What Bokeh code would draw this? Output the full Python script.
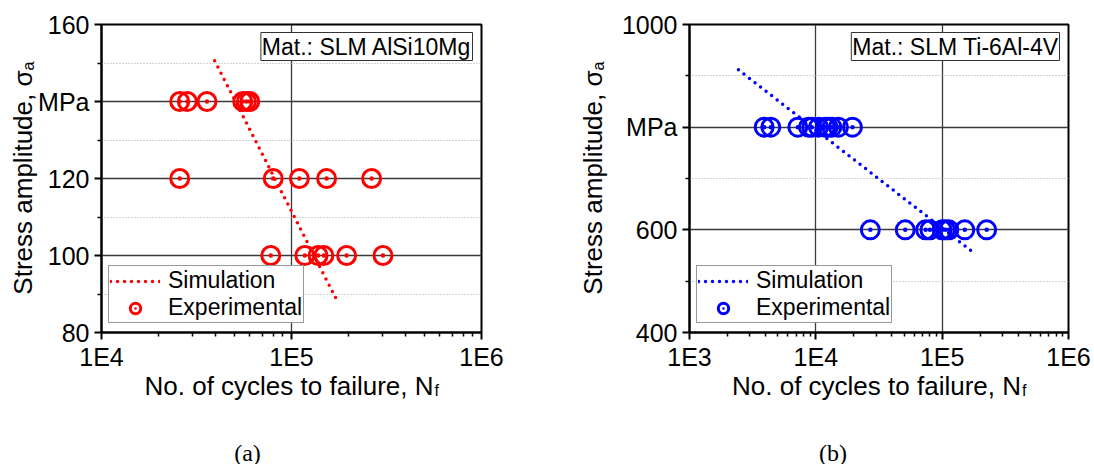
import math
from bokeh.plotting import figure
from bokeh.models import Range1d, FixedTicker, Label, Legend, LegendItem
from bokeh.layouts import row
from bokeh.embed import file_html
from bokeh.resources import INLINE

# ---------------- data: (a) SLM AlSi10Mg ----------------
al_exp_N = [25800, 28300, 35900, 55400, 57900, 60300,
            25800, 80100, 110000, 153000, 264000,
            77800, 117500, 138000, 148000, 195000, 303000]
al_exp_S = [140, 140, 140, 140, 140, 140,
            120, 120, 120, 120, 120,
            100, 100, 100, 100, 100, 100]
al_sim_N = [39400, 177000]
al_sim_S = [150.6, 87.5]
al_y_ticks = [80, 100, 120, 140, 160]
al_y_minor = [90, 110, 130, 150]
al_x_decades = [4, 5, 6]
al_title = "Mat.: SLM AlSi10Mg"

# ---------------- data: (b) SLM Ti-6Al-4V ----------------
ti_exp_N = [3900, 4400, 7200, 8750, 9300, 10500, 11900, 12500, 13400, 15100, 19500,
            27000, 51000, 74000, 80000, 100000, 106000, 113000, 151000, 225000]
ti_exp_S = [800] * 11 + [600] * 9
ti_sim_N = [2440, 169000]
ti_sim_S = [911.7, 559.7]
ti_y_ticks = [400, 600, 800, 1000]
ti_y_minor = [500, 700, 900]
ti_x_decades = [3, 4, 5, 6]
ti_title = "Mat.: SLM Ti-6Al-4V"

FONT = "Liberation Sans"


def panel(exp_N, exp_S, sim_N, sim_S, y_ticks, y_minor, decades, title,
          color, width, border_left, border_right, ylab_dx, ylab_side,
          caption, cap_dx):
    x0, x1 = 10.0 ** decades[0], 10.0 ** decades[-1]
    y0, y1 = y_ticks[0], y_ticks[-1]
    p = figure(width=width, height=464, x_axis_type="log",
               x_range=Range1d(x0, x1), y_range=Range1d(y0, y1),
               output_backend="svg", toolbar_location=None,
               min_border_left=border_left, min_border_right=border_right,
               min_border_top=24, min_border_bottom=132)
    p.outline_line_color = "black"
    p.outline_line_width = 2
    p.background_fill_color = "white"
    p.border_fill_color = "white"

    majors = [10.0 ** d for d in decades]
    minors = [k * 10.0 ** d for d in decades[:-1] for k in range(2, 10)]
    p.xaxis.ticker = FixedTicker(ticks=majors, minor_ticks=minors)
    p.xaxis.major_label_overrides = {m: "1E%d" % d for m, d in zip(majors, decades)}
    p.yaxis.ticker = FixedTicker(ticks=y_ticks, minor_ticks=y_minor)
    p.yaxis.major_label_overrides = {y_ticks[-2]: "MPa"}

    for ax in (p.xaxis, p.yaxis):
        ax.axis_line_width = 2
        ax.axis_line_color = "black"
        ax.major_tick_line_width = 2
        ax.minor_tick_line_width = 1.5
        ax.major_tick_out = 7
        ax.major_tick_in = 0
        ax.minor_tick_out = 4
        ax.minor_tick_in = 0
        ax.major_label_text_font = FONT
        ax.major_label_text_font_size = "25px"
        ax.major_label_text_color = "black"
    p.xaxis.major_label_standoff = 3
    p.yaxis.major_label_standoff = 5

    p.xgrid.ticker = FixedTicker(ticks=majors)
    p.xgrid.grid_line_color = "#3a3a3a"
    p.xgrid.grid_line_width = 1.3
    p.ygrid.ticker = FixedTicker(ticks=y_ticks, minor_ticks=y_minor)
    p.ygrid.grid_line_color = "#3a3a3a"
    p.ygrid.grid_line_width = 1.3
    p.ygrid.minor_grid_line_color = "#a8a8a8"
    p.ygrid.minor_grid_line_dash = "1 2"
    p.ygrid.minor_grid_line_width = 1

    sim = p.line(sim_N, sim_S, line_color=color, line_width=3.5, line_dash="0 7",
                 line_cap="round")
    exp = p.scatter(exp_N, exp_S, marker="circle_dot", size=18, line_color=color,
                    line_width=3, fill_alpha=0)

    legend = Legend(items=[LegendItem(label="Simulation", renderers=[sim]),
                           LegendItem(label="Experimental", renderers=[exp])],
                    location=(7, 9))
    legend.border_line_color = "#333333"
    legend.border_line_width = 1
    legend.background_fill_alpha = 1
    legend.label_text_font = FONT
    legend.label_text_font_size = "23px"
    legend.label_text_color = "black"
    legend.glyph_width = 50
    legend.glyph_height = 26
    legend.label_height = 26
    legend.spacing = 0
    legend.padding = 1
    legend.margin = 0
    legend.label_standoff = 8
    p.add_layout(legend)

    p.add_layout(Label(x=x1, y=y1, x_offset=-9, y_offset=-8, text=title,
                       text_align="right", text_baseline="top",
                       text_font=FONT, text_font_size="23px", text_color="black",
                       border_line_color="#333333", border_line_width=1,
                       background_fill_color="white", padding=1))

    xc = 10.0 ** ((decades[0] + decades[-1]) / 2)
    # labels outside the frame live in side panels (not clipped), but are
    # positioned through the plot's own scales plus pixel offsets
    p.add_layout(Label(x=xc, y=y0, x_offset=142, y_offset=-53,
                       text="No. of cycles to failure, N", text_align="right",
                       text_baseline="alphabetic", text_font=FONT,
                       text_font_size="26px", text_color="black"), "below")
    p.add_layout(Label(x=xc, y=y0, x_offset=143, y_offset=-58, text="f",
                       text_align="left", text_baseline="alphabetic",
                       text_font=FONT, text_font_size="16px",
                       text_color="black"), "below")
    p.add_layout(Label(x=xc, y=y0, x_offset=cap_dx, y_offset=-120, text=caption,
                       text_align="center", text_baseline="middle",
                       text_font="Liberation Serif", text_font_size="24px",
                       text_color="black"), "below")

    p.add_layout(Label(x=x0, y=y1, x_offset=ylab_dx, y_offset=-46,
                       text="Stress amplitude, σ", angle=math.pi / 2,
                       text_align="right", text_baseline="alphabetic",
                       text_font=FONT, text_font_size="26px",
                       text_color="black"), ylab_side)
    p.add_layout(Label(x=x0, y=y1, x_offset=ylab_dx + 6, y_offset=-46,
                       text="a", angle=math.pi / 2,
                       text_align="left", text_baseline="alphabetic",
                       text_font=FONT, text_font_size="16px",
                       text_color="black"), ylab_side)
    return p


pa = panel(al_exp_N, al_exp_S, al_sim_N, al_sim_S, al_y_ticks, al_y_minor,
           al_x_decades, al_title, "#ff0000", 560, 101, 79, -79, "right",
           "(a)", -44)
pb = panel(ti_exp_N, ti_exp_S, ti_sim_N, ti_sim_S, ti_y_ticks, ti_y_minor,
           ti_x_decades, ti_title, "#0000ff", 534, 129, 26, -97, "left",
           "(b)", -46)

layout = row(pa, pb)
open("out.html", "w").write(file_html(layout, INLINE))
